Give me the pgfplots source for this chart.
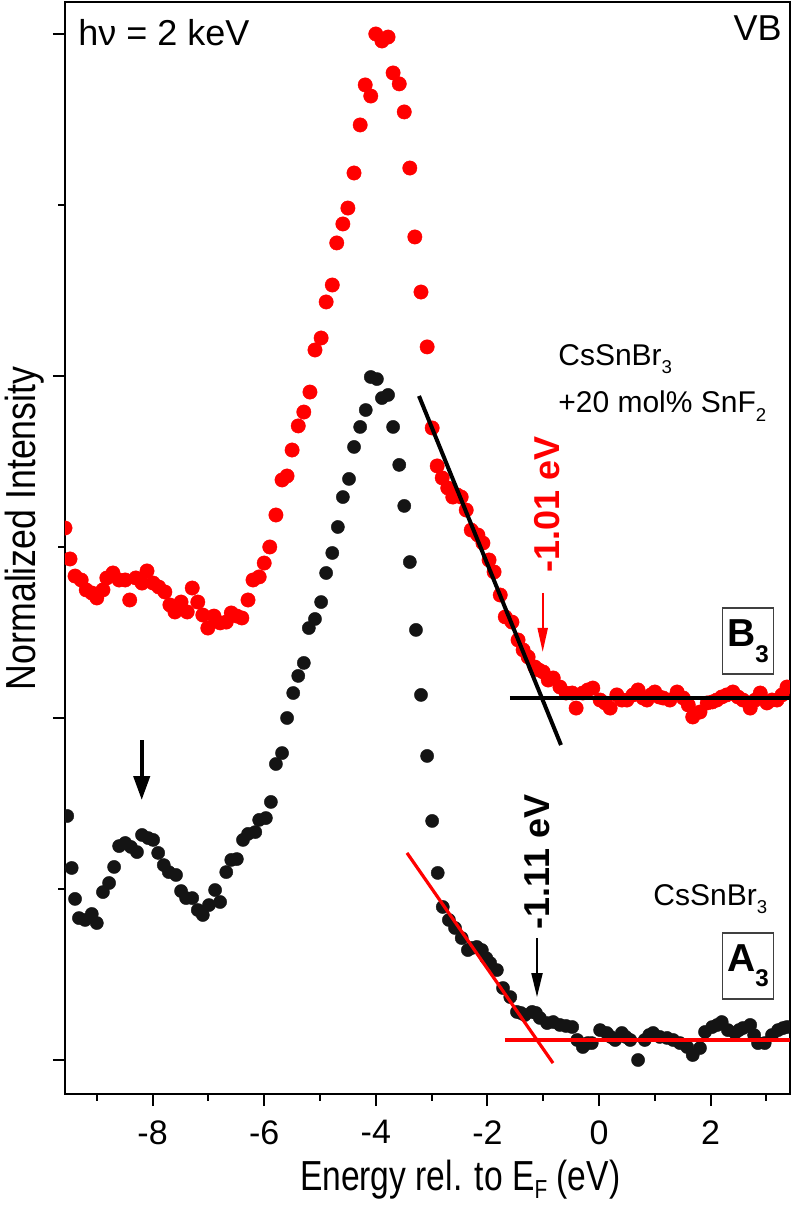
\documentclass[border=0pt]{standalone}
\usepackage{pgfplots}
\pgfplotsset{compat=1.18}
\usepackage{fontspec}
\setmainfont{Liberation Sans}
\usetikzlibrary{calc,arrows.meta}
\newcommand{\sub}[2][0.55ex]{\raisebox{-#1}{\scalebox{0.62}{#2}}}

\pgfplotstableread{
x y
-9.57 3.111
-9.48 2.930
-9.39 2.830
-9.28 2.807
-9.19 2.749
-9.09 2.731
-9.00 2.702
-8.89 2.749
-8.82 2.819
-8.71 2.848
-8.60 2.807
-8.49 2.807
-8.41 2.690
-8.30 2.819
-8.19 2.789
-8.10 2.860
-7.99 2.789
-7.89 2.766
-7.78 2.737
-7.69 2.661
-7.60 2.620
-7.49 2.678
-7.38 2.620
-7.29 2.760
-7.19 2.678
-7.10 2.602
-7.01 2.526
-6.90 2.596
-6.79 2.556
-6.68 2.561
-6.59 2.614
-6.49 2.596
-6.40 2.585
-6.29 2.690
-6.20 2.807
-6.09 2.825
-6.00 2.906
-5.90 3.000
-5.79 3.187
-5.68 3.392
-5.59 3.415
-5.50 3.567
-5.39 3.708
-5.29 3.789
-5.18 3.906
-5.09 4.152
-4.98 4.222
-4.89 4.433
-4.78 4.532
-4.70 4.778
-4.59 4.889
-4.50 4.982
-4.39 5.187
-4.28 5.468
-4.19 5.702
-4.09 5.637
-4.00 6.000
-3.89 5.959
-3.78 5.982
-3.69 5.772
-3.58 5.708
-3.49 5.544
-3.39 5.216
-3.30 4.813
-3.19 4.491
-3.08 4.170
-2.99 3.696
-2.90 3.474
-2.81 3.404
-2.71 3.345
-2.62 3.292
-2.54 3.304
-2.47 3.292
-2.38 3.216
-2.29 3.099
-2.17 3.070
-2.08 3.023
-1.97 2.924
-1.88 2.854
-1.77 2.719
-1.68 2.591
-1.56 2.561
-1.45 2.456
-1.36 2.398
-1.27 2.357
-1.15 2.298
-1.08 2.281
-1.00 2.269
-0.91 2.222
-0.82 2.234
-0.70 2.181
-0.59 2.146
-0.48 2.146
-0.41 2.058
-0.29 2.146
-0.20 2.164
-0.11 2.175
0.02 2.105
0.11 2.088
0.20 2.058
0.32 2.135
0.41 2.105
0.50 2.105
0.61 2.135
0.70 2.164
0.79 2.117
0.86 2.105
0.93 2.135
1.00 2.152
1.08 2.123
1.15 2.117
1.27 2.105
1.40 2.152
1.51 2.117
1.60 2.076
1.68 2.006
1.81 2.035
1.94 2.088
2.03 2.094
2.11 2.105
2.20 2.123
2.29 2.135
2.40 2.152
2.49 2.123
2.58 2.105
2.71 2.058
2.80 2.105
2.89 2.146
3.01 2.088
3.10 2.105
3.19 2.105
3.28 2.135
3.37 2.181
}\redB

\pgfplotstableread{
x y
-9.53 1.427
-9.45 1.123
-9.39 0.942
-9.32 0.830
-9.21 0.819
-9.09 0.854
-9.00 0.801
-8.89 0.982
-8.78 1.035
-8.69 1.129
-8.60 1.251
-8.49 1.269
-8.39 1.246
-8.28 1.216
-8.19 1.316
-8.08 1.298
-7.99 1.287
-7.90 1.211
-7.80 1.140
-7.71 1.099
-7.58 1.082
-7.49 0.988
-7.40 0.947
-7.29 0.947
-7.19 0.877
-7.10 0.848
-6.99 0.906
-6.88 0.994
-6.79 0.924
-6.68 1.099
-6.59 1.170
-6.49 1.175
-6.38 1.287
-6.29 1.322
-6.16 1.333
-6.09 1.404
-5.97 1.415
-5.88 1.509
-5.79 1.731
-5.68 1.795
-5.59 2.000
-5.48 2.146
-5.39 2.246
-5.29 2.322
-5.20 2.526
-5.09 2.579
-4.98 2.678
-4.89 2.848
-4.78 2.965
-4.68 3.117
-4.59 3.292
-4.48 3.398
-4.39 3.585
-4.28 3.702
-4.18 3.801
-4.09 3.994
-3.98 3.982
-3.89 3.871
-3.78 3.889
-3.69 3.702
-3.58 3.480
-3.49 3.240
-3.39 2.912
-3.28 2.515
-3.19 2.135
-3.08 1.778
-2.99 1.398
-2.89 1.094
-2.80 0.895
-2.69 0.819
-2.58 0.772
-2.46 0.713
-2.35 0.643
-2.28 0.655
-2.19 0.661
-2.10 0.643
-2.02 0.596
-1.95 0.567
-1.83 0.526
-1.72 0.421
-1.59 0.368
-1.47 0.281
-1.40 0.275
-1.33 0.263
-1.20 0.281
-1.13 0.275
-1.06 0.246
-0.93 0.216
-0.82 0.222
-0.70 0.205
-0.59 0.199
-0.48 0.193
-0.39 0.117
-0.29 0.076
-0.20 0.099
-0.13 0.099
0.02 0.175
0.14 0.158
0.21 0.135
0.29 0.117
0.41 0.158
0.48 0.135
0.56 0.117
0.70 0.000
0.82 0.117
0.90 0.146
0.97 0.158
1.09 0.135
1.22 0.129
1.33 0.117
1.45 0.099
1.58 0.076
1.68 0.029
1.81 0.070
1.90 0.164
2.03 0.193
2.12 0.205
2.20 0.222
2.31 0.175
2.44 0.158
2.51 0.175
2.58 0.187
2.71 0.205
2.78 0.146
2.85 0.099
2.97 0.099
3.10 0.146
3.21 0.175
3.30 0.187
3.37 0.193
}\blackA

\begin{document}
\begin{tikzpicture}
\begin{axis}[
  scale only axis, width=362.5pt, height=546pt,
  xmin=-9.57, xmax=3.423, ymin=-0.1988, ymax=6.187,
  axis line style={line width=1pt},
  tick style={line width=1pt, black},
  tick align=outside, xtick pos=bottom, ytick pos=left,
  xtick={-8,-6,-4,-2,0,2}, xticklabels={-8,-6,-4,-2,0,2},
  minor xtick={-9,-7,-5,-3,-1,1,3},
  ytick={0,2,4,6}, yticklabels={}, minor ytick={1,3,5},
  major tick length=6pt, minor tick length=3.3pt,
  xticklabel style={font=\fontsize{17}{20}\selectfont, inner sep=0pt, yshift=-7pt},
  xlabel={\scalebox{0.8}[1]{Energy rel. to E\sub[0.4ex]{F} (eV)}},
  ylabel={\scalebox{0.85}[1]{Normalized Intensity}},
  label style={font=\fontsize{21}{25}\selectfont},
  xlabel style={at={(axis description cs:0.545,0)}, anchor=base, inner sep=0pt, yshift=-48pt},
  ylabel style={at={(axis description cs:-0.0552,0.518)}, anchor=center},
  clip marker paths=true,
]
\coordinate (SW) at (rel axis cs:0,0);
\coordinate (NE) at (rel axis cs:1,1);
\addplot[only marks, mark=*, mark size=3.6pt, color=red, mark options={fill=red, draw=red, line width=0.2pt}] table[x=x,y=y] {\redB};
\addplot[only marks, mark=*, mark size=3.3pt, color=black, mark options={fill=black!92, draw=black!92, line width=0.2pt}] table[x=x,y=y] {\blackA};
% fit lines
\addplot[black, line width=2pt] coordinates {(-1.595,2.117) (3.5,2.117)};
\addplot[black, line width=2pt] coordinates {(-3.226,3.883) (-0.681,1.842)};
\addplot[red, line width=1.6pt] coordinates {(-1.685,0.117) (3.5,0.117)};
\addplot[red, line width=1.6pt] coordinates {(-3.441,1.211) (-0.824,-0.018)};
% arrows
\addplot[red, line width=1pt, -{Triangle[length=12pt,width=5pt]}] coordinates {(-1.009,2.731) (-1.009,2.386)};
\addplot[black, line width=1pt, -{Triangle[length=12pt,width=5.5pt]}] coordinates {(-1.111,0.713) (-1.111,0.368)};
\addplot[black, line width=2pt, -{Triangle[length=12pt,width=8pt]}] coordinates {(-8.195,1.871) (-8.195,1.520)};
% texts
\node[anchor=base west, inner sep=0pt, font=\fontsize{18}{22}\selectfont] at (axis cs:-9.337,5.930) {hν = 2 keV};
\node[anchor=base east, inner sep=0pt, font=\fontsize{18}{22}\selectfont] at (axis cs:3.28,5.959) {VB};
\node[anchor=base west, inner sep=0pt, font=\fontsize{15}{18}\selectfont] at (axis cs:-0.735,4.064) {CsSnBr\sub{3}};
\node[anchor=base west, inner sep=0pt, font=\fontsize{15}{18}\selectfont] at (axis cs:-0.735,3.784) {+20 mol\% SnF\sub{2}};
\node[anchor=base west, inner sep=0pt, font=\fontsize{15}{18}\selectfont] at (axis cs:0.968,0.906) {CsSnBr\sub{3}};
\node[rotate=90, anchor=center, text=red, font=\bfseries\fontsize{18}{22}\selectfont] at (axis cs:-0.932,3.246) {-1.01 eV};
\node[rotate=90, anchor=center, font=\bfseries\fontsize{18}{22}\selectfont] at (axis cs:-1.111,1.158) {-1.11 eV};
\node[draw=black!75, line width=0.6pt, fill=white, minimum width=25.5pt, minimum height=33pt, inner sep=1pt, font=\bfseries\fontsize{19.5}{22}\selectfont] at (axis cs:2.670,2.450) {B\sub[0.75ex]{3}};
\node[draw=black!75, line width=0.6pt, fill=white, minimum width=25.5pt, minimum height=33pt, inner sep=1pt, font=\bfseries\fontsize{19.5}{22}\selectfont] at (axis cs:2.670,0.550) {A\sub[0.75ex]{3}};
\end{axis}
\pgfresetboundingbox
\path ($(SW)+(-32.5pt,-55.5pt)$) rectangle ($(NE)+(1pt,1pt)$);
\end{tikzpicture}
\end{document}
